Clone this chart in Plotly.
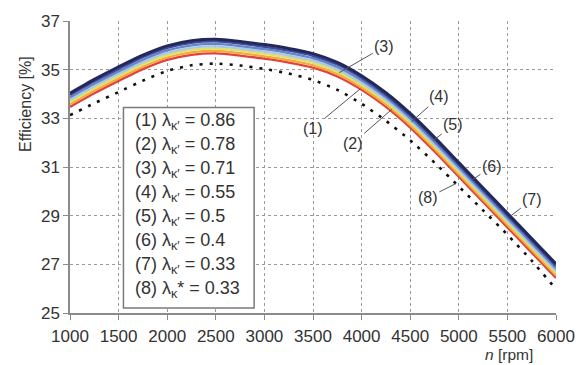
import numpy as np
import plotly.graph_objects as go

# ---- data ----
rpm = [1000, 1250, 1500, 1750, 2000, 2250, 2500, 2750, 3000, 3250, 3500,
       3750, 4000, 4250, 4500, 4750, 5000, 5250, 5500, 5750, 6000]
eff_1 = [33.47, 34.03, 34.54, 35.02, 35.40, 35.61, 35.67, 35.58, 35.45, 35.29, 35.08,
         34.72, 34.17, 33.47, 32.62, 31.64, 30.60, 29.56, 28.52, 27.48, 26.44]
eff_2 = [33.57, 34.13, 34.64, 35.12, 35.50, 35.71, 35.77, 35.68, 35.55, 35.39, 35.18,
         34.82, 34.27, 33.57, 32.72, 31.74, 30.70, 29.66, 28.62, 27.58, 26.54]
eff_3 = [33.67, 34.23, 34.74, 35.22, 35.60, 35.81, 35.87, 35.78, 35.65, 35.49, 35.28,
         34.92, 34.37, 33.67, 32.82, 31.84, 30.80, 29.76, 28.72, 27.68, 26.64]
eff_4 = [33.76, 34.32, 34.83, 35.31, 35.69, 35.90, 35.96, 35.87, 35.74, 35.58, 35.37,
         35.01, 34.46, 33.76, 32.91, 31.93, 30.89, 29.85, 28.81, 27.77, 26.73]
eff_5 = [33.86, 34.42, 34.93, 35.41, 35.79, 36.00, 36.06, 35.97, 35.84, 35.68, 35.47,
         35.11, 34.56, 33.86, 33.01, 32.03, 30.99, 29.95, 28.91, 27.87, 26.83]
eff_6 = [33.96, 34.52, 35.03, 35.51, 35.89, 36.10, 36.16, 36.07, 35.94, 35.78, 35.57,
         35.21, 34.66, 33.96, 33.11, 32.13, 31.09, 30.05, 29.01, 27.97, 26.93]
eff_7 = [34.03, 34.60, 35.12, 35.60, 35.98, 36.19, 36.25, 36.16, 36.03, 35.87, 35.66,
         35.30, 34.75, 34.05, 33.20, 32.22, 31.18, 30.14, 29.10, 28.06, 27.02]
eff_8 = [33.13, 33.62, 34.08, 34.55, 34.95, 35.18, 35.25, 35.17, 35.03, 34.84, 34.58,
         34.17, 33.60, 32.90, 32.10, 31.18, 30.20, 29.22, 28.22, 27.15, 25.98]

series_labels = ["(1)", "(2)", "(3)", "(4)", "(5)", "(6)", "(7)", "(8)"]
lambda_values = ["0.86", "0.78", "0.71", "0.55", "0.5", "0.4", "0.33", "0.33"]
x_ticks = [1000, 1500, 2000, 2500, 3000, 3500, 4000, 4500, 5000, 5500, 6000]
y_ticks = [25, 27, 29, 31, 33, 35, 37]

series = [eff_1, eff_2, eff_3, eff_4, eff_5, eff_6, eff_7, eff_8]
colors = ["#e5413a", "#f2a93e", "#e2df63", "#a9c7e6", "#6585c9", "#3c4b9c", "#24275a", "#111111"]
widths = [2.3, 2.3, 2.3, 2.3, 2.3, 2.3, 3, 2.6]

fig = go.Figure()
for i in range(7):
    fig.add_trace(go.Scatter(x=rpm, y=series[i], mode="lines",
                             line=dict(color=colors[i], width=widths[i], shape="spline", smoothing=0.6),
                             showlegend=False, hoverinfo="skip"))
fig.add_trace(go.Scatter(x=rpm, y=eff_8, mode="lines",
                         line=dict(color=colors[7], width=2.6, dash="3px,7px", shape="spline", smoothing=0.6),
                         showlegend=False, hoverinfo="skip"))

txt = "#333333"
FONT = "Liberation Sans, Arial, sans-serif"

# leader-line labels: (series index, x tip, ax, ay)
leaders = [(0, 3984, -47, 39), (1, 4310, -39, 34), (2, 3770, 45, -26), (3, 4513, 28, -25),
           (4, 4737, 20, -16), (5, 5145, 19, -13), (6, 5530, 22, -17), (7, 4970, -28, 14)]
for idx, xt, ax, ay in leaders:
    yt = float(np.interp(xt, rpm, series[idx]))
    fig.add_annotation(x=xt, y=yt, xref="x", yref="y", text=series_labels[idx],
                       showarrow=True, arrowhead=0, arrowwidth=1, arrowcolor="#555555",
                       ax=ax, ay=ay, standoff=0, font=dict(size=16, color=txt, family=FONT))

# legend box
W, H = 491.0, 297.0
fig.add_shape(type="rect", xref="paper", yref="paper",
              x0=(124 - 70) / W, x1=(256 - 70) / W, y0=(313 - 308) / H, y1=(313 - 104) / H,
              line=dict(color="#7a7a7a", width=1.5), fillcolor="white", layer="above")
for i in range(8):
    sub = "κ′" if i < 7 else "κ"
    star = "" if i < 7 else "*"
    t = f"{series_labels[i]} λ<sub>{sub}</sub>{star} = {lambda_values[i]}"
    yc = 118 + i * 24.4
    fig.add_annotation(x=(134 - 70) / W, y=(313 - yc) / H, xref="paper", yref="paper",
                       text=t, showarrow=False, xanchor="left", yanchor="middle",
                       font=dict(size=18, color=txt, family=FONT))

# axis titles
fig.add_annotation(x=-(70 - 25) / W, y=(313 - 100) / H, xref="paper", yref="paper",
                   text="Efficiency [%]", textangle=-90, showarrow=False,
                   xanchor="center", yanchor="middle",
                   font=dict(size=16, color=txt, family=FONT))
fig.add_annotation(x=1.0 + (540 - 561) / W, y=-(355 - 313) / H, xref="paper", yref="paper",
                   text="<i>n</i> [rpm]", showarrow=False, xanchor="right", yanchor="middle",
                   font=dict(size=15.5, color=txt, family=FONT))

fig.update_xaxes(range=[1000, 6000], tickvals=x_ticks, ticktext=[str(v) for v in x_ticks],
                 showgrid=True, gridcolor="#9a9a9a", griddash="dot", gridwidth=1,
                 showline=True, linecolor="#8a8a8a", linewidth=1.5,
                 ticks="outside", ticklen=5, tickcolor="#8a8a8a", ticklabelstandoff=2,
                 tickfont=dict(size=17, color=txt, family=FONT), zeroline=False)
fig.update_yaxes(range=[25, 37], tickvals=y_ticks, ticktext=[str(v) for v in y_ticks],
                 showgrid=True, gridcolor="#9a9a9a", griddash="dot", gridwidth=1,
                 showline=True, linecolor="#8a8a8a", linewidth=1.5,
                 ticks="outside", ticklen=5, tickcolor="#8a8a8a",
                 tickfont=dict(size=17, color=txt, family=FONT), zeroline=False)

fig.update_layout(width=587, height=365, margin=dict(l=70, r=26, t=16, b=52),
                  plot_bgcolor="white", paper_bgcolor="white", font=dict(family=FONT))

fig.write_html("out.html")
